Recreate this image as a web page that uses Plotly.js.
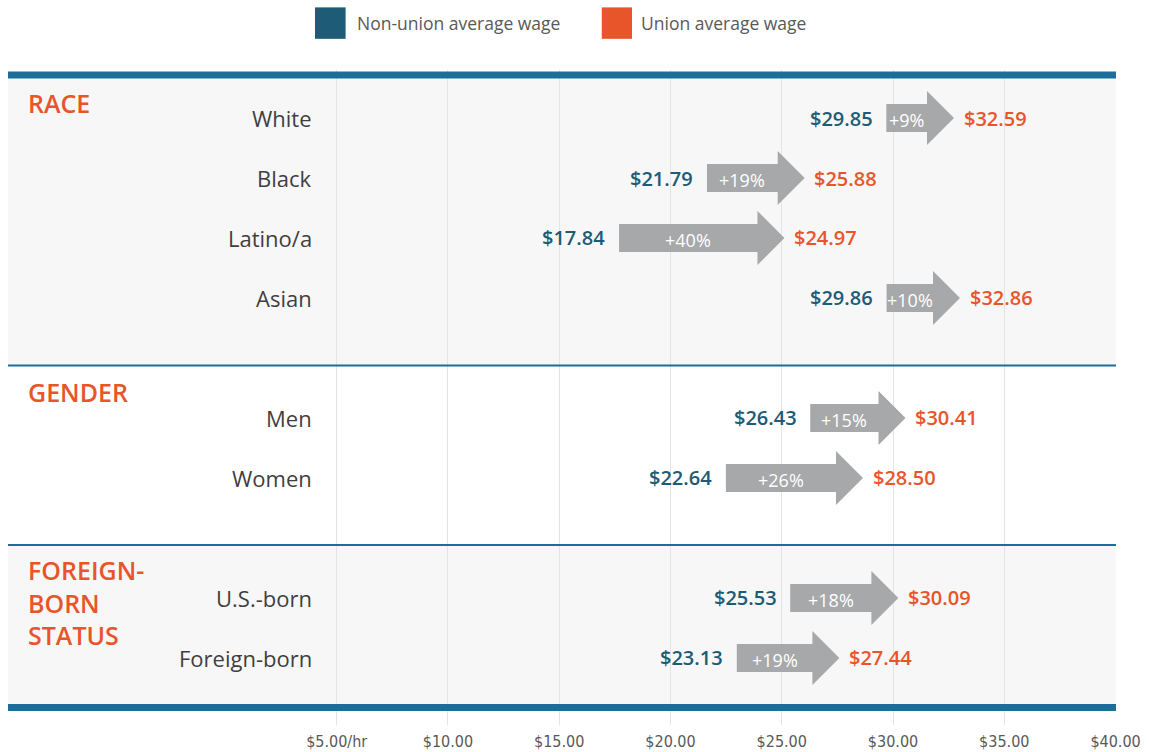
<!DOCTYPE html>
<html>
<head>
<meta charset="utf-8">
<script src="https://cdn.plot.ly/plotly-3.0.1.min.js"></script>
<style>
html,body{margin:0;padding:0;background:#fff;}
#chart{width:1149px;height:752px;}
</style>
</head>
<body>
<div id="chart"></div>
<script>
// ---- data ----
var groups = ["RACE", "GENDER", "FOREIGN-<br>BORN<br>STATUS"];
var categories = ["White", "Black", "Latino/a", "Asian", "Men", "Women", "U.S.-born", "Foreign-born"];
var categoryGroup = [0, 0, 0, 0, 1, 1, 2, 2];
var nonUnionWage = [29.85, 21.79, 17.84, 29.86, 26.43, 22.64, 25.53, 23.13];
var unionWage = [32.59, 25.88, 24.97, 32.86, 30.41, 28.50, 30.09, 27.44];
var premiumLabels = ["+9%", "+19%", "+40%", "+10%", "+15%", "+26%", "+18%", "+19%"];
var tickVals = [5, 10, 15, 20, 25, 30, 35, 40];
var tickLabels = ["$5.00/hr", "$10.00", "$15.00", "$20.00", "$25.00", "$30.00", "$35.00", "$40.00"];

// ---- style / layout constants ----
var TEAL = "#1d5b77", ORANGE = "#e8552b", GRAY = "#a7a8aa", LINE = "#1a6e99", BAND = "#f7f7f7";
var FONT = "Open Sans, Noto Sans, sans-serif";
var pxPerDollar = 22.266, pxPerRow = 60;
var headLen = 27 / pxPerDollar;        // arrow head length in dollars
var bodyHalf = 14 / pxPerRow;          // arrow body half height (rows)
var headHalf = 27 / pxPerRow;          // arrow head half height (rows)
var pad = 0.15;                         // small extension of arrow ends
var bandEdges = [-0.717, 4.125, 7.117, 9.825];
var headerY = [-0.258, 4.567, 8.075];

// row positions: one empty slot between groups
var rowY = categories.map(function (c, i) { return i + categoryGroup[i]; });

var shapes = [];
var annotations = [];

// background bands (groups 0 and 2 shaded)
for (var g = 0; g < groups.length; g++) {
  shapes.push({type: "rect", xref: "paper", yref: "y", x0: 0, x1: 1,
    y0: bandEdges[g], y1: bandEdges[g + 1], fillcolor: g === 1 ? "rgba(255,255,255,0)" : BAND,
    line: {width: 0}, layer: "below"});
}
// separator lines
for (var e = 0; e < bandEdges.length; e++) {
  var thick = (e === 0 || e === bandEdges.length - 1);
  shapes.push({type: "line", xref: "paper", yref: "y", x0: 0, x1: 1,
    y0: bandEdges[e], y1: bandEdges[e], line: {color: LINE, width: thick ? 7 : 2}, layer: "above"});
}

// arrows
for (var i = 0; i < categories.length; i++) {
  var x0 = nonUnionWage[i] - pad, x2 = unionWage[i] + pad, x1 = x2 - headLen, y = rowY[i];
  var path = "M" + x0 + "," + (y - bodyHalf) + " L" + x1 + "," + (y - bodyHalf) +
    " L" + x1 + "," + (y - headHalf) + " L" + x2 + "," + y + " L" + x1 + "," + (y + headHalf) +
    " L" + x1 + "," + (y + bodyHalf) + " L" + x0 + "," + (y + bodyHalf) + " Z";
  shapes.push({type: "path", xref: "x", yref: "y", path: path, fillcolor: GRAY,
    line: {width: 0}, layer: "above"});

  annotations.push({xref: "x", yref: "y", x: nonUnionWage[i], y: y, xanchor: "right", yanchor: "middle",
    xshift: -15, text: "$" + nonUnionWage[i].toFixed(2), showarrow: false,
    font: {family: FONT, size: 20, color: TEAL, weight: 600}});
  annotations.push({xref: "x", yref: "y", x: unionWage[i], y: y, xanchor: "left", yanchor: "middle",
    xshift: 11, text: "$" + unionWage[i].toFixed(2), showarrow: false,
    font: {family: FONT, size: 20, color: ORANGE, weight: 600}});
  annotations.push({xref: "x", yref: "y", x: (x0 + x1) / 2, y: y, xanchor: "center", yanchor: "middle",
    yshift: -2, text: premiumLabels[i], showarrow: false,
    font: {family: FONT, size: 18, color: "#ffffff"}});
  annotations.push({xref: "paper", yref: "y", x: 0.2762, y: y, xanchor: "right", yanchor: "middle",
    text: categories[i], showarrow: false,
    font: {family: FONT, size: 22, color: "#3f3f3f"}});
}

// group headers
for (var g2 = 0; g2 < groups.length; g2++) {
  annotations.push({xref: "paper", yref: "y", x: 0.0163, y: headerY[g2], xanchor: "left", yanchor: "middle",
    align: "left", text: groups[g2], showarrow: false,
    font: {family: FONT, size: 25, color: ORANGE, weight: 600}});
}

// legend
var legendItems = [
  {color: TEAL, text: "Non-union average wage", sx0: 0.2771, sx1: 0.3047, tx: 0.3132},
  {color: ORANGE, text: "Union average wage", sx0: 0.5359, sx1: 0.5632, tx: 0.5697}
];
legendItems.forEach(function (it) {
  shapes.push({type: "rect", xref: "paper", yref: "paper", x0: it.sx0, x1: it.sx1,
    y0: 1.0476, y1: 1.0956, fillcolor: it.color, line: {width: 0}});
  annotations.push({xref: "paper", yref: "paper", x: it.tx, y: 1.0718, xanchor: "left", yanchor: "middle",
    text: it.text, showarrow: false, font: {family: FONT, size: 17.5, color: "#595959"}});
});

var layout = {
  width: 1149, height: 752,
  margin: {l: 8, r: 33, t: 70, b: 27},
  paper_bgcolor: "#ffffff",
  plot_bgcolor: "rgba(0,0,0,0)",
  showlegend: false,
  xaxis: {range: [-9.77, 40.02], tickvals: tickVals, ticktext: tickLabels,
    showgrid: true, gridcolor: "#e4e4e4", gridwidth: 1, zeroline: false, showline: false,
    ticks: "", ticklabelstandoff: 5,
    tickfont: {family: "Liberation Sans Narrow, DejaVu Sans Condensed, Roboto Condensed, sans-serif", size: 16, color: "#595959"},
    fixedrange: true},
  yaxis: {range: [10.117, -0.8], showgrid: false, zeroline: false, showline: false,
    showticklabels: false, ticks: "", fixedrange: true},
  shapes: shapes,
  annotations: annotations
};

Plotly.newPlot("chart", [{type: "scatter", x: [], y: [], hoverinfo: "skip"}], layout,
  {displayModeBar: false, staticPlot: true});
</script>
</body>
</html>
